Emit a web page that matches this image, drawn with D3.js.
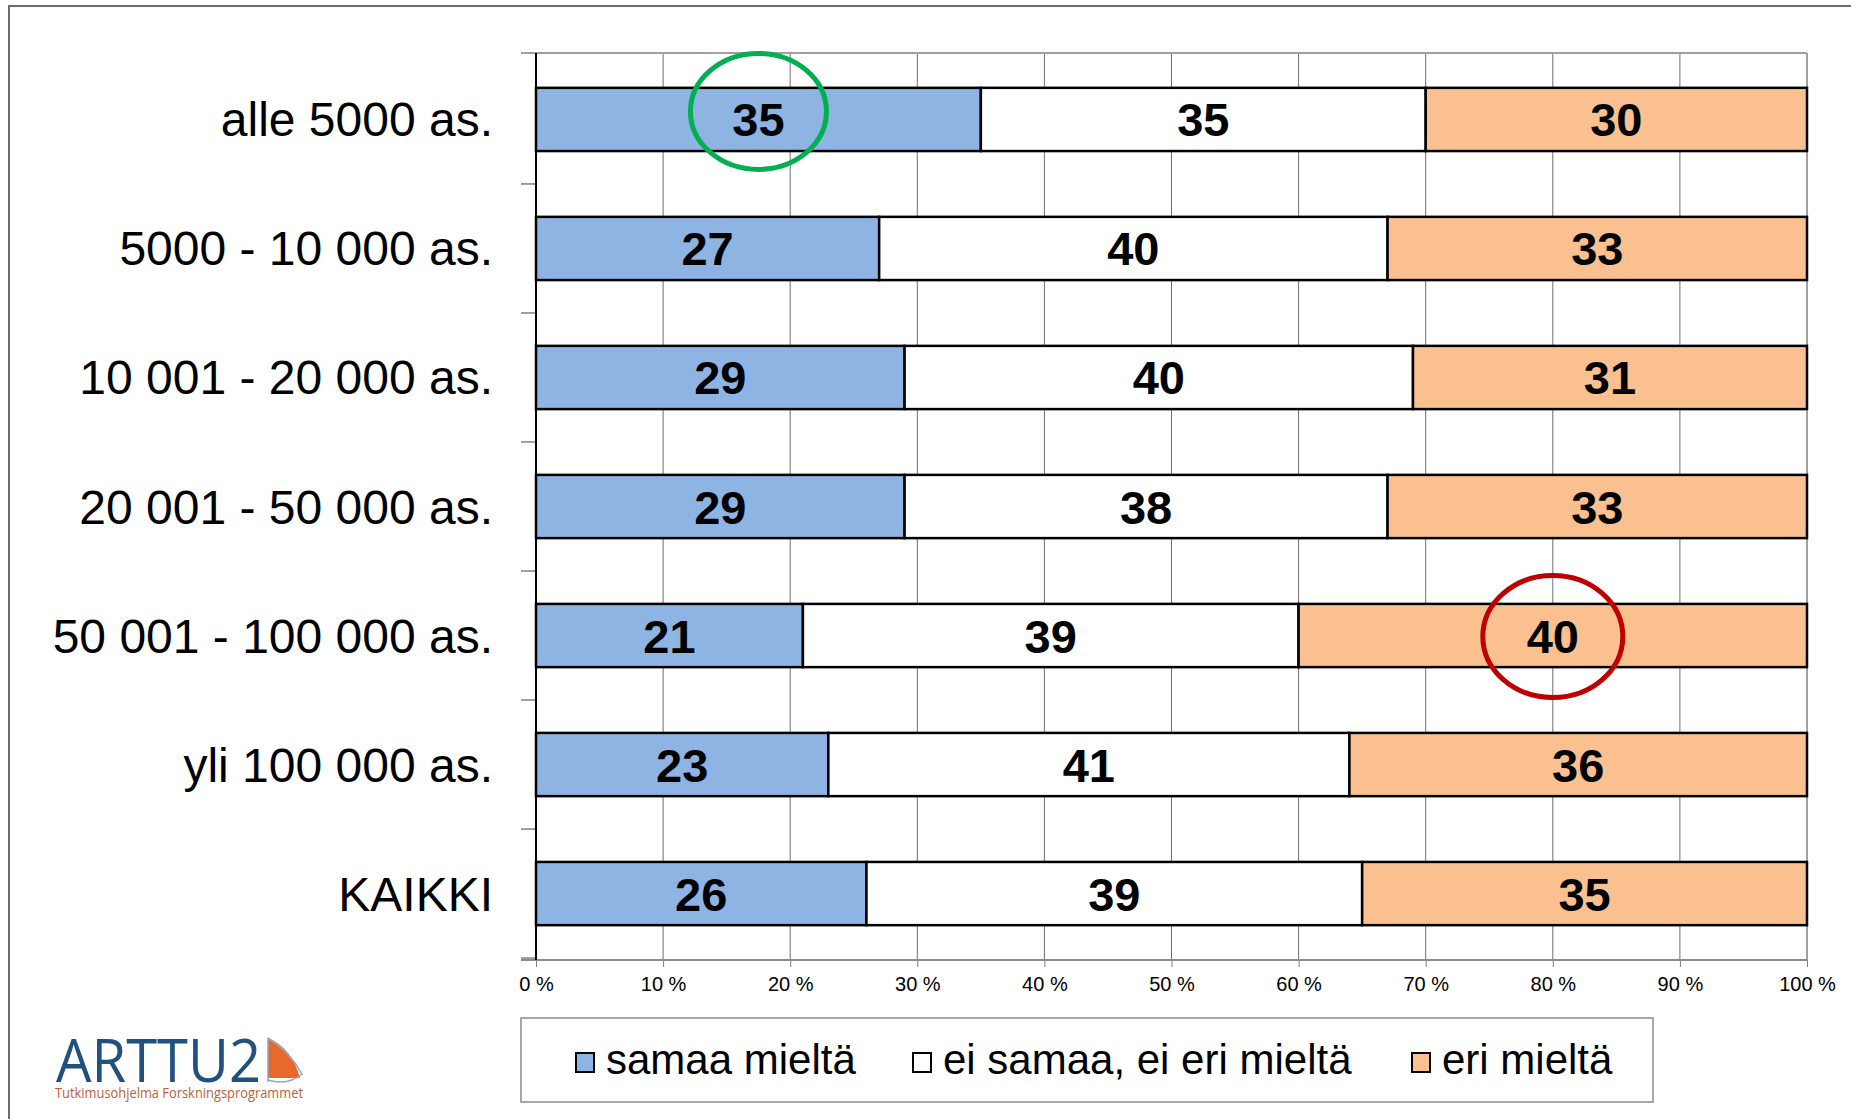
<!DOCTYPE html>
<html>
<head>
<meta charset="utf-8">
<script src="https://cdn.jsdelivr.net/npm/d3@7"></script>
<style>
  body { margin: 0; background: #fff; }
  svg { display: block; font-family: "Liberation Sans", Arial, sans-serif; }
</style>
</head>
<body>
<svg id="chart"></svg>
<script>
// data
var categories = ["alle 5000 as.", "5000 - 10 000 as.", "10 001 - 20 000 as.", "20 001 - 50 000 as.",
                  "50 001 - 100 000 as.", "yli 100 000 as.", "KAIKKI"];
var seriesNames = ["samaa mieltä", "ei samaa, ei eri mieltä", "eri mieltä"];
var samaa = [35, 27, 29, 29, 21, 23, 26];
var eiSamaaEiEri = [35, 40, 40, 38, 39, 41, 39];
var eri = [30, 33, 31, 33, 40, 36, 35];
var tickValues = [0, 10, 20, 30, 40, 50, 60, 70, 80, 90, 100];
// circled cells: [row, series]
var highlights = [[0, 0], [4, 2]];

var RectColors = ["#8eb4e3", "#ffffff", "#fac090"];
var CircleColors = ["#00b050", "#c00000"];

var width = 1851, height = 1119;
var plotLeft = 536, plotRight = 1807, plotTop = 53, plotBottom = 960;

var svg = d3.select("#chart")
    .attr("width", width)
    .attr("height", height);

svg.append("rect")
    .attr("x", 9).attr("y", 6)
    .attr("width", 2000).attr("height", 2000)
    .attr("fill", "none")
    .attr("stroke", "#6d6d6d")
    .attr("stroke-width", 2);

var x = d3.scaleLinear().domain([0, 100]).range([plotLeft, plotRight]);
var y = d3.scaleBand().domain(categories).range([plotTop, plotBottom]).paddingInner(0.51).paddingOuter(0.27);
var bw = y.bandwidth();

// grid
svg.append("g").selectAll("line")
    .data(tickValues.slice(1))
    .join("line")
    .attr("x1", function(d) { return x(d); })
    .attr("x2", function(d) { return x(d); })
    .attr("y1", plotTop).attr("y2", plotBottom)
    .attr("stroke", "#6e6e6e")
    .attr("stroke-width", 1);

svg.append("line")
    .attr("x1", plotLeft).attr("x2", plotRight)
    .attr("y1", plotTop).attr("y2", plotTop)
    .attr("stroke", "#a0a0a0").attr("stroke-width", 2);
svg.append("line")
    .attr("x1", plotRight).attr("x2", plotRight)
    .attr("y1", plotTop).attr("y2", plotBottom)
    .attr("stroke", "#a0a0a0").attr("stroke-width", 2);

// x axis
var xAxis = svg.append("g")
    .attr("transform", "translate(0," + plotBottom + ")")
    .call(d3.axisBottom(x).tickValues(tickValues).tickSize(7).tickSizeOuter(0)
        .tickFormat(function(d) { return d + " %"; }));
xAxis.select(".domain").remove();
xAxis.selectAll("line").attr("stroke", "#808080");
xAxis.selectAll("text")
    .attr("y", 17)
    .attr("dy", "0.71em")
    .style("font-size", "20px")
    .style("font-family", "'Liberation Sans', Arial, sans-serif")
    .attr("fill", "#000");
svg.append("line")
    .attr("x1", plotLeft - 15).attr("x2", plotRight)
    .attr("y1", plotBottom).attr("y2", plotBottom)
    .attr("stroke", "#8c8c8c").attr("stroke-width", 2);

// y axis ticks at band boundaries
var step = y.step();
var bounds = d3.range(categories.length + 1).map(function(i) {
    return i == 0 ? plotTop : y(categories[i - 1]) + bw + (step - bw) / 2;
});
svg.append("g").selectAll("line")
    .data(bounds)
    .join("line")
    .attr("x1", plotLeft - 15).attr("x2", plotLeft)
    .attr("y1", function(d) { return d; })
    .attr("y2", function(d) { return d; })
    .attr("stroke", "#808080")
    .attr("stroke-width", 1.5);
svg.append("line")
    .attr("x1", plotLeft).attr("x2", plotLeft)
    .attr("y1", plotTop).attr("y2", plotBottom)
    .attr("stroke", "#000").attr("stroke-width", 2);

svg.append("g").selectAll("text")
    .data(categories)
    .join("text")
    .attr("x", 493)
    .attr("y", function(d) { return y(d) + bw / 2 + 17; })
    .attr("text-anchor", "end")
    .style("font-size", "48px")
    .attr("fill", "#000")
    .text(function(d) { return d; });

// stacked bars
var rows = categories.map(function(c, i) {
    return { cat: c, samaa: samaa[i], ei: eiSamaaEiEri[i], eri: eri[i] };
});
var stack = d3.stack().keys(["samaa", "ei", "eri"]);
var layers = stack(rows);

layers.forEach(function(layer, k) {
    var g = svg.append("g");
    g.selectAll("rect")
        .data(layer)
        .join("rect")
        .attr("x", function(d) { return x(d[0]); })
        .attr("y", function(d) { return y(d.data.cat); })
        .attr("width", function(d) { return x(d[1]) - x(d[0]); })
        .attr("height", bw)
        .attr("fill", RectColors[k])
        .attr("stroke", "#000")
        .attr("stroke-width", 2.5);
    g.selectAll("text")
        .data(layer)
        .join("text")
        .attr("x", function(d) { return x((d[0] + d[1]) / 2); })
        .attr("y", function(d) { return y(d.data.cat) + bw / 2 + 17; })
        .attr("text-anchor", "middle")
        .style("font-size", "47px")
        .style("font-weight", "bold")
        .attr("fill", "#000")
        .text(function(d) { return d[1] - d[0]; });
});

// highlight circles
highlights.forEach(function(h, i) {
    var d = layers[h[1]][h[0]];
    svg.append("ellipse")
        .attr("cx", x((d[0] + d[1]) / 2))
        .attr("cy", y(d.data.cat) + bw / 2 + (i == 0 ? -8 : 1))
        .attr("rx", i == 0 ? 68 : 70)
        .attr("ry", i == 0 ? 58 : 61)
        .attr("fill", "none")
        .attr("stroke", CircleColors[i])
        .attr("stroke-width", 5);
});

// legend
var legend = svg.append("g");
legend.append("rect")
    .attr("x", 521).attr("y", 1018)
    .attr("width", 1132).attr("height", 84)
    .attr("fill", "#fff")
    .attr("stroke", "#8c8c8c")
    .attr("stroke-width", 1.5);
var legendX = [576, 913, 1412];
seriesNames.forEach(function(name, k) {
    legend.append("rect")
        .attr("x", legendX[k]).attr("y", 1053)
        .attr("width", 18).attr("height", 19)
        .attr("fill", RectColors[k])
        .attr("stroke", "#000")
        .attr("stroke-width", 2);
    legend.append("text")
        .attr("x", legendX[k] + 30)
        .attr("y", 1074)
        .style("font-size", "42px")
        .attr("fill", "#000")
        .text(name);
});

// logo
var logo = svg.append("g");
logo.append("text")
    .attr("x", 56).attr("y", 1082)
    .attr("textLength", 205)
    .attr("lengthAdjust", "spacingAndGlyphs")
    .style("font-size", "60px")
    .style("font-family", "'Open Sans', sans-serif")
    .attr("fill", "#22507f")
    .text("ARTTU2");
logo.append("path")
    .attr("d", "M268,1038 Q292,1048 300,1078 L268,1078 Z")
    .attr("fill", "#e8692e");
logo.append("path")
    .attr("d", "M268,1038 L268,1082 M268,1080 Q288,1086 302,1074 Q290,1052 268,1038")
    .attr("fill", "none")
    .attr("stroke", "#9aa6b4")
    .attr("stroke-width", 1.5);
logo.append("text")
    .attr("x", 55).attr("y", 1098)
    .attr("textLength", 248)
    .attr("lengthAdjust", "spacingAndGlyphs")
    .style("font-size", "14px")
    .style("font-family", "'Open Sans', sans-serif")
    .attr("fill", "#c0603a")
    .text("Tutkimusohjelma  Forskningsprogrammet");
</script>
</body>
</html>
